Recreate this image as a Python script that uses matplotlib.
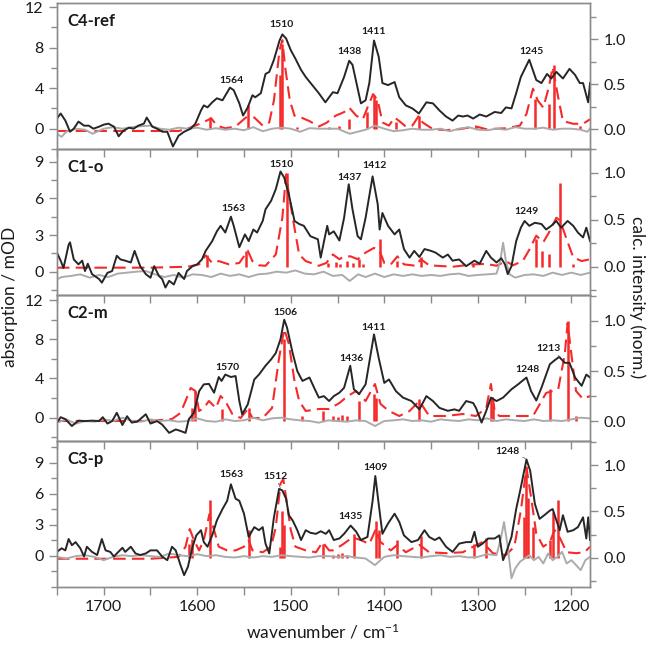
import matplotlib
matplotlib.use("Agg")
import matplotlib.pyplot as plt
from matplotlib.ticker import MultipleLocator, FixedLocator, FormatStrFormatter

plt.rcParams['font.family'] = ['Lato', 'DejaVu Sans']
plt.rcParams['mathtext.fontset'] = 'custom'
plt.rcParams['mathtext.rm'] = 'Lato'
plt.rcParams['mathtext.default'] = 'regular'

# ---------------- C4-ref ----------------
c4_exp_wn = [1750, 1746, 1741, 1736, 1732, 1727, 1721, 1716, 1711, 1705, 1700, 1695, 1689, 1684, 1679,
             1673, 1668, 1663, 1657, 1654, 1648, 1643, 1637, 1632, 1626, 1620, 1614, 1607, 1602, 1596,
             1593, 1589, 1584, 1579, 1573, 1565, 1561, 1555, 1551, 1546, 1541, 1538, 1532, 1527, 1523,
             1518, 1512, 1509, 1505, 1500, 1495, 1489, 1484, 1477, 1470, 1463, 1459, 1455, 1450, 1443,
             1437.5, 1434, 1425, 1420, 1416, 1411, 1406, 1402, 1396, 1389, 1384, 1377, 1370, 1363, 1355,
             1348, 1341, 1334, 1327, 1321, 1316, 1311, 1305, 1298, 1291, 1282, 1275, 1270, 1264, 1259,
             1254, 1245, 1237.5, 1232, 1226, 1221.5, 1216, 1209, 1202, 1196, 1191, 1187.5, 1182, 1180]
c4_exp = [1.0, 1.5, 0.8, -0.3, 0.0, 0.7, 0.3, 0.3, 0.0, 0.2, 0.4, 0.5, 0.2, -0.75, -0.2,
          0.1, 0.0, 0.3, 0.5, 1.1, 0.2, 0.0, -0.3, -0.3, -1.75, -0.7, -0.3, 0.0, 0.5, 1.8,
          2.3, 2.1, 2.6, 3.0, 2.8, 4.05, 3.8, 2.5, 1.3, 2.1, 3.3, 3.1, 3.5, 5.4, 5.6,
          6.8, 8.7, 9.3, 8.9, 7.75, 6.9, 5.8, 5.1, 4.3, 3.5, 2.6, 3.1, 3.6, 3.5, 5.1,
          6.7, 6.3, 2.5, 2.8, 4.5, 8.7, 7.1, 4.5, 4.3, 4.6, 3.1, 2.3, 2.0, 1.5, 2.6,
          2.5, 1.8, 1.2, 0.8, 1.3, 1.2, 1.3, 1.0, 1.4, 1.2, 1.65, 1.55, 2.1, 2.0, 3.5,
          5.1, 6.8, 4.8, 4.5, 5.4, 4.95, 5.6, 4.95, 5.9, 5.3, 4.5, 4.5, 2.6, 4.5]
c4_ref_wn = [1750, 1745, 1740, 1730, 1720, 1712, 1700, 1690, 1680, 1670, 1660, 1650, 1640, 1630, 1620,
             1610, 1600, 1590, 1580, 1570, 1560, 1550, 1540, 1530, 1520, 1510, 1500, 1490, 1480, 1470,
             1460, 1450, 1437, 1420, 1410, 1400, 1390, 1380, 1370, 1360, 1350, 1340, 1330, 1320, 1310,
             1300, 1290, 1280, 1270, 1260, 1250, 1240, 1230, 1220, 1210, 1200, 1190, 1183, 1180]
c4_ref = [-0.5, -0.8, -0.3, 0.0, -0.1, -0.5, 0.0, 0.15, 0.0, 0.15, 0.25, 0.3, 0.0, -0.1, 0.1,
          0.0, 0.1, -0.1, 0.05, -0.1, 0.0, -0.15, 0.15, -0.25, 0.0, 0.1, 0.0, -0.3, 0.05, 0.0,
          0.0, 0.0, -0.5, -0.1, 0.3, 0.0, -0.25, -0.15, 0.0, -0.1, -0.1, 0.0, -0.25, 0.0, 0.15,
          -0.1, -0.15, 0.0, -0.1, 0.15, 0.0, 0.0, 0.1, -0.1, 0.0, 0.0, -0.1, -0.3, 0.0]
c4_calc_wn = [1750, 1700, 1650, 1620, 1612, 1602, 1594, 1585, 1579, 1570, 1559, 1548, 1539, 1530, 1523,
              1518, 1512, 1509, 1506, 1501, 1496, 1489, 1480, 1470, 1462, 1452, 1443, 1437.5, 1430, 1423,
              1418, 1412, 1407, 1402, 1395, 1389, 1384, 1377, 1370, 1363, 1359, 1348, 1334, 1320, 1302,
              1291, 1270, 1255, 1248, 1241, 1236, 1230, 1224, 1220, 1214, 1209, 1198, 1187.5, 1180]
c4_calc = [-0.02, -0.02, -0.02, -0.02, 0.0, 0.04, 0.075, 0.12, 0.04, 0.01, 0.03, 0.13, 0.13, 0.04, 0.075,
           0.32, 0.88, 0.99, 0.69, 0.32, 0.15, 0.13, 0.09, 0.03, 0.07, 0.15, 0.19, 0.24, 0.15, 0.11,
           0.24, 0.39, 0.32, 0.075, 0.04, 0.13, 0.09, 0.03, 0.04, 0.15, 0.075, 0.0, -0.01, 0.0, 0.03,
           0.0, 0.01, 0.04, 0.17, 0.45, 0.32, 0.24, 0.47, 0.69, 0.35, 0.09, 0.06, 0.06, 0.11]
c4_stick_wn = [1586, 1545.5, 1511, 1509, 1493, 1459, 1448, 1437.5, 1418, 1411.5, 1409, 1388, 1363, 1302,
               1239, 1224, 1218.5, 1191]
c4_stick = [0.13, 0.27, 0.6, 0.95, 0.02, 0.02, 0.03, 0.11, 0.19, 0.38, 0.32, 0.075, 0.15, 0.04,
            0.34, 0.28, 0.71, 0.03]

# ---------------- C1-o ----------------
c1_exp_wn = [1750, 1746, 1743, 1737.5, 1736, 1732, 1727, 1723, 1720, 1717, 1712.5, 1705, 1702, 1696, 1691,
             1686, 1682, 1677, 1671, 1667, 1661, 1655, 1650, 1646, 1641, 1637.5, 1634, 1630, 1625, 1620,
             1614, 1611, 1605, 1600, 1595, 1591, 1584, 1579, 1575, 1570, 1564, 1561, 1555, 1549, 1545,
             1540, 1536, 1530, 1527, 1521, 1516, 1511, 1507, 1502, 1496, 1491, 1486, 1479, 1471, 1468,
             1464, 1461, 1459, 1454, 1448, 1443, 1438, 1434, 1428.5, 1425, 1420, 1412.5, 1407, 1405, 1402,
             1396, 1389, 1384, 1379, 1373, 1368, 1362.5, 1357, 1350, 1345, 1337.5, 1332, 1327, 1320, 1312.5,
             1303.6, 1298, 1291, 1286, 1280, 1275, 1271, 1268, 1264, 1259, 1254, 1250, 1245, 1239, 1232,
             1227, 1221.5, 1216, 1211, 1204, 1198, 1193, 1187.5, 1184, 1180]
c1_exp = [1.55, 0.9, 0.3, 2.2, 2.4, 1.0, 0.6, 0.9, 0.05, 0.65, -0.2, -0.6, -0.9, -0.1, 0.05,
          1.3, 1.0, 0.9, 0.75, 1.7, 0.45, -0.2, -0.5, 0.45, -0.35, -0.6, -1.3, -0.75, -1.05, -0.1,
          -0.6, 0.05, 0.45, 0.6, 1.0, 1.7, 2.5, 3.3, 3.75, 3.2, 4.5, 3.75, 2.0, 3.05, 2.5,
          3.45, 3.2, 4.15, 5.1, 5.8, 6.75, 8.2, 7.7, 6.3, 4.15, 3.9, 3.75, 2.9, 2.65, 1.15,
          2.65, 3.75, 3.05, 3.3, 2.55, 4.4, 7.15, 5.1, 2.9, 2.65, 4.4, 7.8, 5.5, 3.45, 4.8,
          3.75, 3.05, 3.45, 1.85, 1.15, 1.7, 1.2, 1.85, 1.7, 1.55, 1.15, 1.4, 0.9, 1.0, 0.45,
          0.9, 0.65, 1.7, 1.15, 0.75, 1.1, 0.6, -0.2, 0.45, 2.5, 3.6, 4.15, 3.75, 4.0, 3.9,
          3.45, 3.75, 4.15, 3.6, 4.15, 3.75, 3.2, 2.8, 3.6, 2.5]
c1_ref_wn = [1750, 1745, 1735, 1725, 1715, 1705, 1695, 1685, 1675, 1665, 1655, 1645, 1635, 1625, 1615,
             1605, 1595, 1585, 1575, 1565, 1555, 1545, 1535, 1525, 1515, 1505, 1495, 1485, 1475, 1465,
             1455, 1445, 1437, 1428, 1420, 1410, 1400, 1390, 1380, 1370, 1360, 1350, 1340, 1330, 1320,
             1310, 1300, 1290, 1280, 1276, 1273, 1270, 1266, 1260, 1250, 1240, 1230, 1220, 1210, 1200,
             1190, 1180]
c1_ref = [-0.63, -0.44, -0.35, -0.22, -0.49, -0.27, -0.44, -0.16, -0.08, 0.0, 0.05, -0.22, -0.44, -0.27, -0.49,
          -0.22, -0.27, -0.44, -0.16, -0.35, -0.22, -0.44, -0.22, -0.16, 0.0, -0.08, 0.1, -0.16, -0.22, 0.0,
          -0.35, -0.27, -0.76, -0.22, -0.44, -0.16, -0.44, -0.22, -0.35, -0.22, -0.35, -0.27, -0.35, -0.22, -0.16,
          -0.35, -0.27, -0.22, -0.16, 0.87, 2.37, 0.87, -0.22, -0.49, -0.27, -0.22, -0.35, -0.08, -0.27, -0.08,
          -0.27, -0.08]
c1_calc_wn = [1750, 1650, 1610, 1598, 1591, 1584, 1577, 1566, 1555, 1546, 1541, 1534, 1527, 1516, 1509,
              1505, 1502, 1496, 1491, 1484, 1470, 1462, 1455, 1448, 1443, 1436, 1428.5, 1420, 1411, 1405,
              1400, 1393, 1386, 1379, 1366, 1361, 1352, 1327, 1305, 1291, 1280, 1270, 1262.5, 1252, 1245,
              1237.5, 1230, 1223, 1216, 1212, 1205, 1198, 1189, 1180]
c1_calc = [-0.01, -0.01, 0.0, 0.025, 0.12, 0.04, 0.06, 0.025, 0.04, 0.17, 0.06, 0.015, 0.01, 0.13, 0.52,
           0.98, 0.77, 0.41, 0.13, 0.06, 0.01, 0.04, 0.13, 0.08, 0.11, 0.11, 0.08, 0.15, 0.2, 0.17,
           0.04, 0.025, 0.11, 0.025, 0.01, 0.08, 0.015, 0.0, 0.025, 0.03, 0.01, 0.06, 0.015, 0.06, 0.18,
           0.33, 0.26, 0.38, 0.52, 0.49, 0.29, 0.1, 0.06, 0.08]
c1_stick_wn = [1590, 1547.5, 1504, 1460, 1452, 1447, 1440, 1433, 1427, 1423, 1405, 1386, 1361, 1305,
               1237.5, 1231, 1224, 1212, 1198]
c1_stick = [0.12, 0.17, 1.0, 0.04, 0.05, 0.03, 0.06, 0.04, 0.08, 0.03, 0.29, 0.06, 0.1, 0.03,
            0.29, 0.17, 0.13, 0.89, 0.03]

# ---------------- C2-m ----------------
c2_exp_wn = [1750, 1746, 1741, 1734, 1727, 1720, 1712.5, 1705, 1701, 1696, 1691, 1686, 1680, 1675, 1670,
             1664, 1655, 1650, 1643, 1637.5, 1630, 1623, 1618, 1612.5, 1609, 1603.5, 1598, 1593, 1587.5, 1582,
             1577, 1574, 1570, 1564, 1559, 1555, 1552, 1546, 1539, 1534, 1527, 1521, 1516, 1511, 1507,
             1504, 1498, 1493, 1487.5, 1480, 1475, 1470, 1464.6, 1459, 1454, 1448, 1443, 1436.4, 1432.5, 1427,
             1420, 1414, 1411, 1406, 1400, 1395, 1387.5, 1380, 1371, 1362.5, 1355, 1348, 1341, 1332, 1325,
             1320, 1312.5, 1305, 1302, 1296, 1291, 1286, 1280, 1273, 1264, 1257, 1248, 1243, 1237.5, 1232,
             1223, 1218, 1213, 1207, 1202, 1196, 1189, 1184, 1180]
c2_exp = [-0.5, 0.05, -0.15, -0.85, -0.3, -0.35, -0.3, -0.35, 0.05, -0.6, -0.35, 0.5, -0.75, 0.15, -0.5,
          -0.4, 0.35, -0.6, -0.35, -0.7, -1.55, -1.2, -1.35, -1.55, -0.15, 0.5, 2.7, 3.4, 3.45, 2.55,
          4.15, 3.75, 4.4, 4.15, 4.25, 1.7, 0.35, 1.35, 3.9, 4.4, 5.3, 5.95, 6.6, 8.0, 10.0,
          9.2, 6.6, 4.75, 3.75, 4.1, 3.05, 2.05, 2.2, 1.7, 2.2, 2.55, 3.05, 5.3, 2.9, 2.4,
          3.4, 6.8, 8.5, 6.1, 3.55, 3.9, 2.7, 2.05, 1.7, 0.85, 2.2, 1.7, 1.0, 0.7, 0.85,
          0.7, 1.7, 1.5, 1.0, -0.5, 0.7, 2.05, 1.7, 2.05, 2.9, 3.4, 4.1, 2.7, 1.75, 3.05,
          5.45, 5.85, 6.2, 5.6, 5.6, 4.1, 3.25, 4.4, 4.1]
c2_ref_wn = [1750, 1740, 1730, 1720, 1710, 1700, 1690, 1680, 1670, 1660, 1650, 1640, 1630, 1620, 1610,
             1600, 1590, 1580, 1570, 1560, 1550, 1540, 1530, 1520, 1510, 1500, 1490, 1480, 1470, 1460,
             1450, 1440, 1430, 1420, 1410, 1400, 1390, 1380, 1370, 1360, 1350, 1340, 1330, 1320, 1310,
             1300, 1290, 1280, 1270, 1260, 1250, 1240, 1230, 1220, 1210, 1200, 1190, 1180]
c2_ref = [-0.51, -0.17, -0.61, -0.34, -0.41, -0.17, -0.34, 0.0, -0.34, -0.41, -0.17, -0.34, -0.27, -0.41, -0.34,
          -0.07, -0.34, -0.41, -0.17, -0.34, -0.27, 0.0, -0.27, -0.07, 0.0, -0.17, -0.27, -0.34, -0.51, -0.27,
          -0.34, -0.41, -0.27, -0.34, -0.85, -0.34, -0.27, -0.17, -0.34, -0.27, -0.41, -0.17, -0.27, -0.34, -0.17,
          -0.27, -0.07, -0.34, -0.17, -0.27, -0.34, -0.17, -0.34, -0.27, -0.34, -0.17, 0.0, -0.07]
c2_calc_wn = [1750, 1650, 1627, 1618, 1612.5, 1607, 1602, 1598, 1593, 1587.5, 1580, 1575, 1570, 1562.5, 1553.6,
              1546, 1541, 1530, 1520, 1512.5, 1507, 1502, 1496, 1491, 1484, 1470, 1459, 1448, 1439, 1430,
              1420, 1410, 1404, 1395, 1384, 1373, 1362.5, 1352, 1334, 1316, 1302, 1291, 1286, 1282, 1277,
              1255, 1241, 1227, 1220, 1214, 1207, 1204, 1200, 1195, 1187.5, 1180]
c2_calc = [0.0, 0.0, 0.02, 0.08, 0.2, 0.33, 0.3, 0.1, 0.13, 0.2, 0.13, 0.25, 0.2, 0.07, 0.03,
           0.12, 0.03, 0.03, 0.13, 0.63, 0.92, 0.77, 0.4, 0.2, 0.1, 0.12, 0.12, 0.18, 0.25, 0.3,
           0.2, 0.37, 0.17, 0.1, 0.05, 0.1, 0.2, 0.05, 0.05, 0.07, 0.05, 0.13, 0.37, 0.1, 0.05,
           0.05, 0.05, 0.28, 0.3, 0.32, 0.67, 0.98, 0.67, 0.3, 0.22, 0.25]
c2_stick_wn = [1606, 1602, 1573, 1545, 1507, 1487.5, 1466, 1455, 1450, 1445, 1440, 1427.5, 1411, 1409,
               1362.5, 1286, 1284, 1223, 1204, 1195]
c2_stick = [0.13, 0.3, 0.12, 0.13, 0.82, 0.05, 0.1, 0.05, 0.04, 0.06, 0.05, 0.2, 0.27, 0.23,
            0.22, 0.23, 0.17, 0.32, 1.0, 0.05]

# ---------------- C3-p ----------------
c3_exp_wn = [1750, 1745, 1741, 1737.5, 1734, 1730, 1725, 1721, 1718, 1712.5, 1707, 1702, 1698, 1693, 1689,
             1686, 1680, 1677, 1671, 1666, 1661, 1655, 1650, 1643, 1637.5, 1632, 1627, 1623, 1618, 1614,
             1610, 1605, 1601, 1596, 1593, 1589, 1584, 1579, 1573, 1568, 1564, 1559, 1555, 1550, 1545,
             1539, 1534, 1530, 1527, 1523, 1518, 1512.5, 1509, 1505, 1502, 1498, 1493, 1489, 1484, 1479,
             1473, 1468, 1462.5, 1459, 1454, 1448, 1443, 1436, 1430, 1425, 1418, 1412.5, 1409.6, 1406, 1402,
             1396, 1389, 1384, 1379, 1371, 1364, 1357, 1352, 1346, 1341, 1334, 1327, 1320, 1312.5, 1307,
             1303.6, 1300, 1295, 1289, 1282, 1277, 1273, 1270, 1264, 1259, 1254, 1248, 1244, 1239, 1234,
             1229, 1223, 1220, 1216, 1212.5, 1209, 1204, 1198, 1193, 1187.5, 1184, 1182, 1180]
c3_exp = [0.35, 0.7, 0.5, 1.6, 1.0, 1.3, 0.7, -0.1, 0.85, 0.35, 0.05, 1.6, 0.5, 0.35, -0.1,
          0.2, 0.75, 0.35, 0.85, 0.2, 0.05, 0.2, 0.5, 0.5, -0.1, -0.45, 0.85, 0.5, -0.9, -1.9,
          -1.1, 0.85, 1.95, 2.45, 1.3, 0.85, 1.95, 3.4, 4.5, 5.3, 6.9, 5.5, 5.3, 4.05, 1.8,
          2.75, 2.45, 2.75, 1.15, 0.2, 3.7, 6.45, 6.3, 5.5, 3.9, 3.4, 2.45, 1.5, 2.45, 2.2,
          2.1, 2.35, 2.1, 2.45, 1.5, 1.65, 2.1, 2.9, 2.3, 1.5, 1.8, 5.3, 7.7, 5.0, 2.1,
          3.1, 4.05, 3.25, 1.95, 1.3, 1.5, 2.45, 1.8, 1.5, 1.75, 0.85, 0.35, 1.15, 1.3, 1.3,
          2.3, 0.85, 1.15, 1.65, 1.65, 1.95, -0.45, 0.2, 1.8, 4.5, 6.6, 9.3, 8.2, 5.0, 3.55,
          3.9, 4.35, 4.5, 3.4, 2.45, 3.9, 2.3, 2.45, 2.75, 3.7, 1.65, 3.7, 1.5]
c3_ref_wn = [1750, 1740, 1730, 1720, 1710, 1700, 1690, 1680, 1670, 1660, 1650, 1640, 1630, 1620, 1610,
             1600, 1590, 1580, 1570, 1560, 1550, 1540, 1530, 1520, 1510, 1500, 1490, 1480, 1470, 1460,
             1450, 1440, 1430, 1420, 1410, 1400, 1390, 1380, 1370, 1360, 1350, 1340, 1330, 1320, 1310,
             1300, 1290, 1280, 1275, 1272, 1268, 1264, 1260, 1255, 1250, 1245, 1240, 1235, 1230, 1225,
             1220, 1215, 1210, 1205, 1200, 1195, 1190, 1185, 1180]
c3_ref = [-0.13, -0.29, -0.06, 0.03, -0.13, -0.45, -0.13, 0.03, -0.06, 0.03, -0.06, -0.13, 0.19, 0.03, -0.06,
          0.13, -0.06, 0.03, -0.13, -0.19, -0.06, -0.19, -0.06, -0.13, 0.03, -0.06, -0.13, -0.19, -0.06, -0.06,
          -0.13, -0.06, -0.19, -0.29, -0.93, -0.13, 0.03, -0.06, -0.13, -0.19, -0.06, 0.03, -0.13, -0.06, -0.19,
          -0.13, 0.13, 0.03, 1.8, 3.24, 0.83, -2.2, -1.25, -0.61, -0.29, 0.03, -0.45, -0.13, -0.77, 0.19,
          -0.45, -0.13, 0.35, -0.77, -0.45, -0.93, -1.41, -0.45, -0.13]
c3_calc_wn = [1750, 1650, 1620, 1612.5, 1608, 1603.5, 1598, 1593, 1587, 1582, 1577, 1568, 1559, 1550, 1545,
              1541, 1530, 1521, 1516, 1511, 1508, 1505, 1500, 1495, 1484, 1473, 1466, 1459, 1455, 1445,
              1434, 1425, 1416, 1409, 1404, 1393, 1386, 1377, 1362.5, 1352, 1334, 1316, 1305, 1295, 1284,
              1270, 1261, 1254, 1248, 1243, 1237.5, 1230, 1223, 1218, 1212.5, 1205, 1195, 1186, 1180]
c3_calc = [-0.01, -0.01, 0.01, 0.12, 0.31, 0.19, 0.08, 0.19, 0.47, 0.3, 0.12, 0.08, 0.08, 0.12, 0.19,
           0.08, 0.06, 0.12, 0.33, 0.8, 0.85, 0.65, 0.3, 0.12, 0.08, 0.06, 0.17, 0.08, 0.08, 0.14,
           0.22, 0.19, 0.15, 0.31, 0.17, 0.08, 0.14, 0.06, 0.14, 0.06, 0.05, 0.06, 0.12, 0.17, 0.05,
           0.03, 0.12, 0.51, 0.975, 0.65, 0.26, 0.12, 0.17, 0.3, 0.22, 0.06, 0.05, 0.06, 0.12]
c3_stick_wn = [1609, 1606, 1586, 1545, 1511.5, 1509, 1507, 1466, 1455, 1450, 1445, 1440, 1432, 1409,
               1406, 1386, 1361, 1303.6, 1291, 1251, 1248, 1246, 1241, 1223, 1220, 1214]
c3_stick = [0.15, 0.2, 0.62, 0.3, 0.12, 0.51, 0.35, 0.15, 0.03, 0.04, 0.05, 0.03, 0.26, 0.4,
            0.3, 0.19, 0.24, 0.15, 0.21, 0.44, 0.975, 0.64, 0.33, 0.19, 0.49, 0.62]

names = ["C4-ref", "C1-o", "C2-m", "C3-p"]
exp_wn = [c4_exp_wn, c1_exp_wn, c2_exp_wn, c3_exp_wn]
exp = [c4_exp, c1_exp, c2_exp, c3_exp]
ref_wn = [c4_ref_wn, c1_ref_wn, c2_ref_wn, c3_ref_wn]
ref = [c4_ref, c1_ref, c2_ref, c3_ref]
calc_wn = [c4_calc_wn, c1_calc_wn, c2_calc_wn, c3_calc_wn]
calc = [c4_calc, c1_calc, c2_calc, c3_calc]
stick_wn = [c4_stick_wn, c1_stick_wn, c2_stick_wn, c3_stick_wn]
stick = [c4_stick, c1_stick, c2_stick, c3_stick]

# peak labels: (text, x, y) in wavenumber / mOD
peak_labels = [
    [("1564", 1563, 4.8), ("1510", 1510, 10.3), ("1438", 1437, 7.6), ("1411", 1411, 9.6), ("1245", 1243, 7.6)],
    [("1563", 1561, 5.2), ("1510", 1510, 8.8), ("1437", 1437, 7.7), ("1412", 1411, 8.7), ("1249", 1248, 4.9)],
    [("1570", 1568, 5.1), ("1506", 1506, 10.7), ("1436", 1435, 6.0), ("1411", 1411, 9.2), ("1248", 1246.5, 4.9)],
    [("1563", 1563, 7.85), ("1435", 1436, 3.75), ("1409", 1409, 8.5)],
]
# labels with a leader line: (text, text x, text y, peak x, peak y)
leader_labels = [
    [],
    [],
    [("1213", 1224, 7.1, 1212, 6.2)],
    [("1512", 1516, 7.7, 1511, 6.5), ("1248", 1268, 10.1, 1249, 9.4)],
]

left_lim = [(-2.0, 12.4), (-1.91, 10.04), (-2.38, 12.52), (-3.05, 11.09)]
right_lim = [(-0.22, 1.403), (-0.30, 1.25), (-0.20, 1.26), (-0.315, 1.26)]
left_ticks = [[0, 4, 8, 12], [0, 3, 6, 9], [0, 4, 8, 12], [0, 3, 6, 9]]
left_minor = [[-2, 2, 6, 10], [-1.5, 1.5, 4.5, 7.5], [-2, 2, 6, 10], [-3, -1.5, 1.5, 4.5, 7.5, 10.5]]

spine_col = '#8c8c8c'
red = '#f52a2a'

fig = plt.figure(figsize=(6.47, 6.46), dpi=100)
axes = fig.subplots(4, 1, sharex=True)
fig.subplots_adjust(left=0.088, right=0.912, top=0.9954, bottom=0.0913, hspace=0)

for i, ax in enumerate(axes):
    ax2 = ax.twinx()
    ax.set_zorder(ax2.get_zorder() + 1)
    ax.patch.set_visible(False)

    ax2.plot(calc_wn[i], calc[i], color=red, lw=1.5, dashes=(6, 3))
    ax2.vlines(stick_wn[i], 0, stick[i], color=red, lw=1.8)
    ax.plot(ref_wn[i], ref[i], color='#ababab', lw=1.4)
    ax.plot(exp_wn[i], exp[i], color='#262626', lw=1.4)

    ax.set_ylim(*left_lim[i])
    ax2.set_ylim(*right_lim[i])
    ax.yaxis.set_major_locator(FixedLocator(left_ticks[i]))
    ax.yaxis.set_minor_locator(FixedLocator(left_minor[i]))
    ax2.yaxis.set_major_locator(MultipleLocator(0.5))
    ax2.yaxis.set_minor_locator(MultipleLocator(0.25))
    ax2.yaxis.set_major_formatter(FormatStrFormatter('%.1f'))

    for a in (ax, ax2):
        for s in a.spines.values():
            s.set_color(spine_col)
            s.set_linewidth(1.0)
        a.tick_params(which='major', direction='out', length=6, width=1.0, color=spine_col,
                      labelsize=11.5, labelcolor='#1a1a1a')
        a.tick_params(which='minor', direction='out', length=4, width=1.0, color=spine_col)
    ax.tick_params(axis='x', which='both', length=6)

    ax.text(0.02, 0.93, names[i], transform=ax.transAxes, ha='left', va='top',
            fontsize=12, fontweight='bold', color='#1a1a1a')
    for txt, x, y in peak_labels[i]:
        ax.text(x, y, txt, ha='center', va='center', fontsize=7.5, fontweight='bold', color='#1a1a1a')
    for txt, x, y, px, py in leader_labels[i]:
        ax.annotate(txt, xy=(px, py), xytext=(x, y), ha='center', va='center', fontsize=7.5,
                    fontweight='bold', color='#1a1a1a',
                    arrowprops=dict(arrowstyle='-', color='#555555', lw=0.5, shrinkA=0, shrinkB=0))

axes[-1].set_xlim(1750, 1180)
axes[-1].xaxis.set_major_locator(MultipleLocator(100))
axes[-1].xaxis.set_minor_locator(MultipleLocator(50))

fig.text(0.016, 0.54, "absorption / mOD", rotation=90, ha='center', va='center', fontsize=12.5, color='#1a1a1a')
fig.text(0.985, 0.54, "calc. intensity (norm.)", rotation=270, ha='center', va='center', fontsize=12.5,
         color='#1a1a1a')
fig.text(0.5, 0.022, "wavenumber / cm$^{-1}$", ha='center', va='center', fontsize=12.5, color='#1a1a1a')

fig.savefig("out.png", dpi=100)
